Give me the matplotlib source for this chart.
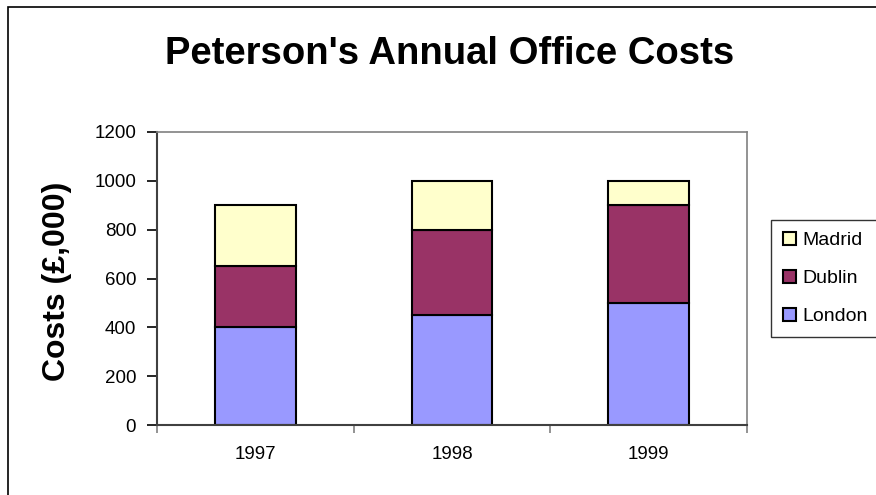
import matplotlib
matplotlib.use("Agg")
import matplotlib.pyplot as plt
from matplotlib.patches import Rectangle

plt.rcParams['font.family'] = ['Liberation Sans', 'DejaVu Sans']

years = ["1997", "1998", "1999"]
london = [400, 450, 500]
dublin = [250, 350, 400]
madrid = [250, 200, 100]
y_ticks = [0, 200, 400, 600, 800, 1000, 1200]

c_london = "#9999FF"
c_dublin = "#993366"
c_madrid = "#FFFFCC"

W, H = 876, 495
fig = plt.figure(figsize=(W / 100, H / 100), dpi=100)
fig.patch.set_facecolor("white")

# chart-area frame (extends past the right and bottom edges)
fig.add_artist(Rectangle((8 / W, -0.1), 1.2, 1 - 7 / H + 0.1,
                         transform=fig.transFigure, fill=False,
                         edgecolor="black", linewidth=1.2))

ax = fig.add_axes([157 / W, 1 - 425 / H, 590 / W, 293 / H])

x = list(range(len(years)))
w = 0.41
bottom2 = [a + b for a, b in zip(london, dublin)]
ax.bar(x, london, width=w, color=c_london, edgecolor="black", linewidth=1.5, label="London")
ax.bar(x, dublin, width=w, bottom=london, color=c_dublin, edgecolor="black", linewidth=1.5, label="Dublin")
ax.bar(x, madrid, width=w, bottom=bottom2, color=c_madrid, edgecolor="black", linewidth=1.5, label="Madrid")

ax.set_xlim(-0.5, len(years) - 0.5)
ax.set_ylim(0, 1200)
ax.set_yticks(y_ticks)
ax.set_yticklabels([str(v) for v in y_ticks], fontsize=13.5)
ax.set_xticks(x)
ax.set_xticklabels(years, fontsize=13.5)
ax.tick_params(axis="x", length=0, pad=15)
ax.set_xticks([i - 0.5 for i in range(len(years) + 1)], minor=True)
ax.tick_params(axis="x", which="minor", length=6, width=1.2, color="#808080", direction="out")
ax.tick_params(axis="y", length=7, width=1.2, color="black", direction="out", pad=8)

for side in ("top", "right"):
    ax.spines[side].set_color("#808080")
    ax.spines[side].set_linewidth(1.2)
ax.spines["left"].set_color("#404040")
ax.spines["left"].set_linewidth(1.5)
ax.spines["bottom"].set_color("#404040")
ax.spines["bottom"].set_linewidth(1.5)

fig.text(57 / W, 1 - 281 / H, "Costs (£,000)", rotation=90,
         ha="center", va="center", fontsize=23, fontweight="bold")

fig.text(450 / W, 1 - 54 / H, "Peterson's Annual Office Costs",
         ha="center", va="center", fontsize=27.5, fontweight="bold")

handles, labels = ax.get_legend_handles_labels()
leg = fig.legend(handles[::-1], labels[::-1], loc="upper left",
                 bbox_to_anchor=(771 / W, 1 - 220 / H),
                 fontsize=14, frameon=True, fancybox=False,
                 edgecolor="black", handlelength=0.7, handleheight=0.7,
                 handletextpad=0.3, labelspacing=1.05, borderpad=0.6,
                 borderaxespad=0)
leg.get_frame().set_linewidth(1.0)

fig.savefig("out.png", dpi=100, facecolor="white")
